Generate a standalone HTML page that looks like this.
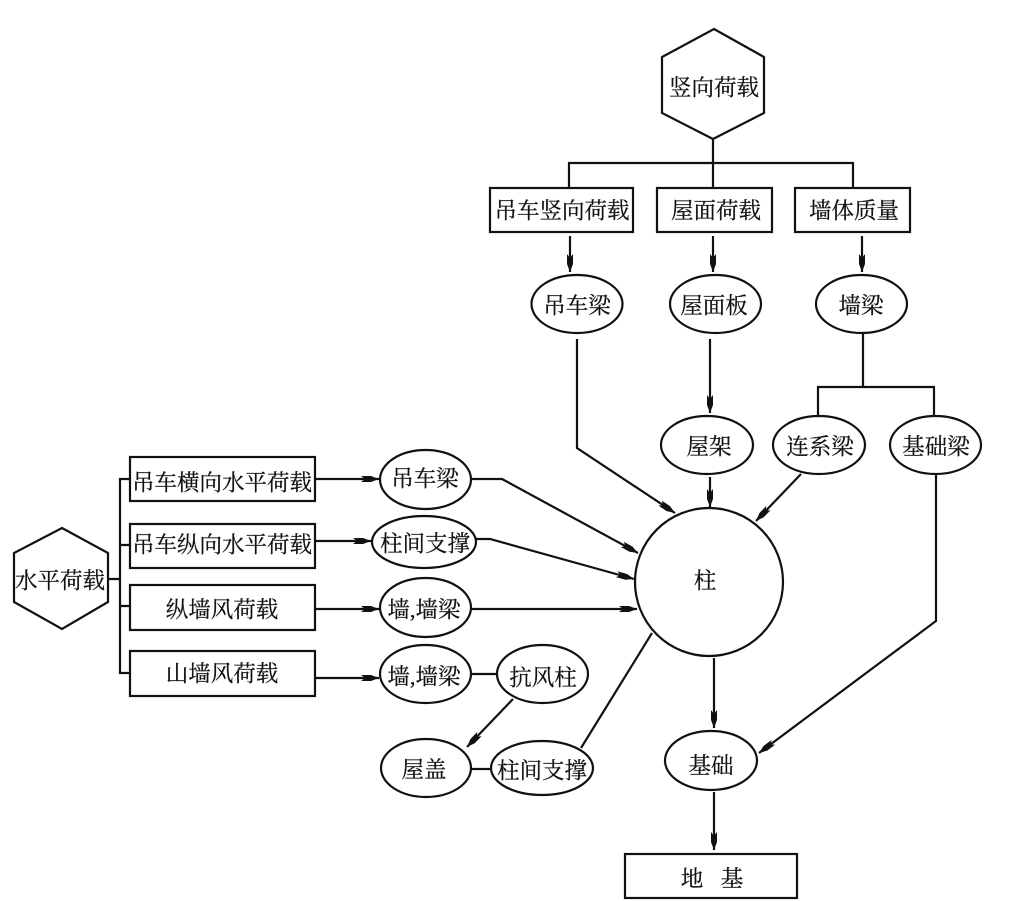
<!DOCTYPE html>
<html lang="zh">
<head>
<meta charset="utf-8">
<title>荷载传递路线</title>
<style>
html,body{margin:0;padding:0;background:#fff;width:1020px;height:901px;overflow:hidden}
svg{display:block}
text{font-family:"Liberation Serif","Noto Serif CJK SC",serif;font-size:22.5px;fill:#111;stroke:#111;stroke-width:.25;text-anchor:middle;dominant-baseline:central}
.s{fill:#fff;stroke:#111;stroke-width:2.2}
.l{fill:none;stroke:#111;stroke-width:2.2}
</style>
</head>
<body>
<svg width="1020" height="901" viewBox="0 0 1020 901" xmlns="http://www.w3.org/2000/svg">
<defs>
<marker id="a" markerUnits="userSpaceOnUse" markerWidth="20" markerHeight="10" refX="18" refY="5" orient="auto">
<path d="M0 2 L10 2 L18 5 L10 8 L0 8 L4 5 Z" fill="#111"/>
</marker>
</defs>

<!-- connectors -->
<path class="l" d="M713 139V188M569 188V163H853V188"/>
<path class="l" d="M570 236V272" marker-end="url(#a)"/>
<path class="l" d="M713 236V272" marker-end="url(#a)"/>
<path class="l" d="M862 236V272" marker-end="url(#a)"/>
<path class="l" d="M577 339V448L675 513" marker-end="url(#a)"/>
<path class="l" d="M710 339V413" marker-end="url(#a)"/>
<path class="l" d="M863 333V387M818 416V387H934V416"/>
<path class="l" d="M710 477V507" marker-end="url(#a)"/>
<path class="l" d="M801 474L756 521" marker-end="url(#a)"/>
<path class="l" d="M936 474V621L759 753" marker-end="url(#a)"/>
<path class="l" d="M108 579H120M130 479H120V673H130M120 545H130M120 606H130"/>
<path class="l" d="M315 479H379" marker-end="url(#a)"/>
<path class="l" d="M315 541H371" marker-end="url(#a)"/>
<path class="l" d="M315 609H379" marker-end="url(#a)"/>
<path class="l" d="M315 678H379" marker-end="url(#a)"/>
<path class="l" d="M471 479H502L638 553" marker-end="url(#a)"/>
<path class="l" d="M476 539H490L634 579" marker-end="url(#a)"/>
<path class="l" d="M471 609H637" marker-end="url(#a)"/>
<path class="l" d="M471 674H497"/>
<path class="l" d="M513 699L467 747" marker-end="url(#a)"/>
<path class="l" d="M471 769H491"/>
<path class="l" d="M581 748L652 633"/>
<path class="l" d="M714 658V728" marker-end="url(#a)"/>
<path class="l" d="M714 792V850" marker-end="url(#a)"/>

<!-- hexagons -->
<polygon class="s" points="714,29 764,57 764,113 713,139 662,113 662,57"/>
<polygon class="s" points="62,528 108,553 108,602 62,629 14,602 14,553"/>

<!-- boxes -->
<rect class="s" x="490" y="188" width="143" height="44"/>
<rect class="s" x="657" y="188" width="115" height="44"/>
<rect class="s" x="795" y="188" width="115" height="44"/>
<rect class="s" x="130" y="457" width="185" height="44"/>
<rect class="s" x="130" y="524" width="185" height="44"/>
<rect class="s" x="130" y="585" width="185" height="45"/>
<rect class="s" x="130" y="651" width="185" height="45"/>
<rect class="s" x="625" y="854" width="172" height="44"/>

<!-- ellipses -->
<ellipse class="s" cx="577" cy="304" rx="45.5" ry="29"/>
<ellipse class="s" cx="715.5" cy="304" rx="45.5" ry="29"/>
<ellipse class="s" cx="861.5" cy="304" rx="45.5" ry="29"/>
<ellipse class="s" cx="707" cy="445" rx="46" ry="29"/>
<ellipse class="s" cx="819" cy="445" rx="46" ry="29"/>
<ellipse class="s" cx="935.5" cy="445" rx="45.5" ry="29"/>
<circle class="s" cx="709" cy="582" r="74"/>
<ellipse class="s" cx="425.5" cy="479.5" rx="45.5" ry="29.5"/>
<ellipse class="s" cx="424" cy="542" rx="52" ry="26"/>
<ellipse class="s" cx="425.5" cy="607.5" rx="45.5" ry="29.5"/>
<ellipse class="s" cx="425.5" cy="674" rx="45.5" ry="29"/>
<ellipse class="s" cx="542.5" cy="674" rx="45.5" ry="29"/>
<ellipse class="s" cx="426" cy="768" rx="45" ry="29"/>
<ellipse class="s" cx="542" cy="768" rx="51" ry="27"/>
<ellipse class="s" cx="711" cy="760.5" rx="46" ry="29.5"/>

<!-- labels -->
<g transform="translate(0,1)">
<text x="714" y="87">竖向荷载</text>
<text x="562" y="210">吊车竖向荷载</text>
<text x="716" y="210">屋面荷载</text>
<text x="854" y="210">墙体质量</text>
<text x="577" y="305">吊车梁</text>
<text x="714" y="305">屋面板</text>
<text x="861" y="305">墙梁</text>
<text x="709" y="446">屋架</text>
<text x="820" y="446">连系梁</text>
<text x="936" y="446">基础梁</text>
<text x="705" y="580">柱</text>
<text x="60" y="580">水平荷载</text>
<text x="222" y="482">吊车横向水平荷载</text>
<text x="222" y="544">吊车纵向水平荷载</text>
<text x="222" y="609">纵墙风荷载</text>
<text x="222" y="673">山墙风荷载</text>
<text x="425" y="478">吊车梁</text>
<text x="425" y="543">柱间支撑</text>
<text x="424" y="609">墙,墙梁</text>
<text x="424" y="676">墙,墙梁</text>
<text x="543" y="677">抗风柱</text>
<text x="424" y="769">屋盖</text>
<text x="542" y="770">柱间支撑</text>
<text x="711" y="765">基础</text>
<text x="692" y="878">地</text>
<text x="732" y="878">基</text>
</g>
</svg>
</body>
</html>
